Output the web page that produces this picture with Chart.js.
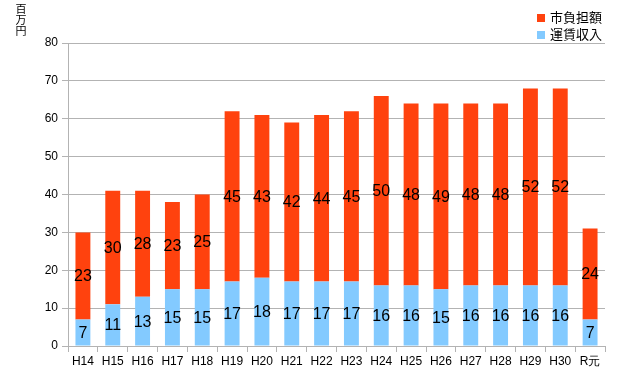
<!DOCTYPE html>
<html>
<head>
<meta charset="utf-8">
<script src="https://cdn.jsdelivr.net/npm/chart.js@4"></script>
<style>
  body { margin: 0; background: #fff; }
  #wrap { position: relative; width: 620px; height: 390px; }
  #ytitle { position: absolute; left: 14px; top: 3px; width: 14px; font: 11px "Noto Sans CJK JP", sans-serif; line-height: 11px; color: #000; text-align: center; }
  #legend { position: absolute; left: 537px; top: 8px; font: 13px "Noto Sans CJK JP", sans-serif; line-height: 17px; color: #000; }
  #legend span.box { display: inline-block; width: 8px; height: 8px; margin-right: 5px; vertical-align: 0px; }
</style>
</head>
<body>
<div id="wrap">
  <canvas id="chart" width="620" height="390"></canvas>
  <div id="ytitle">百<br>万<br>円</div>
  <div id="legend">
    <div><span class="box" style="background:#ff420e"></span>市負担額</div>
    <div><span class="box" style="background:#83caff"></span>運賃収入</div>
  </div>
</div>
<script>
var labels = ['H14', 'H15', 'H16', 'H17', 'H18', 'H19', 'H20', 'H21', 'H22', 'H23', 'H24', 'H25', 'H26', 'H27', 'H28', 'H29', 'H30', 'R元'];
var fareIncome = [7, 11, 13, 15, 15, 17, 18, 17, 17, 17, 16, 16, 15, 16, 16, 16, 16, 7];
var cityBurden = [23, 30, 28, 23, 25, 45, 43, 42, 44, 45, 50, 48, 49, 48, 48, 52, 52, 24];

// draw the value in the middle of each bar segment
var valueLabels = {
    id: 'valueLabels',
    afterDatasetsDraw: function (chart) {
        var ctx = chart.ctx;
        ctx.save();
        ctx.font = '16px "Liberation Sans", Arial, sans-serif';
        ctx.fillStyle = '#000';
        ctx.textAlign = 'center';
        ctx.textBaseline = 'middle';
        chart.data.datasets.forEach(function (ds, i) {
            chart.getDatasetMeta(i).data.forEach(function (bar, j) {
                var mid = (bar.y + bar.base) / 2;
                ctx.fillText(ds.data[j], bar.x, mid + 1);
            });
        });
        ctx.restore();
    }
};

var ctx = document.getElementById('chart').getContext('2d');
var myChart = new Chart(ctx, {
    type: 'bar',
    data: {
        labels: labels,
        datasets: [{
            label: '運賃収入',
            data: fareIncome,
            backgroundColor: '#83caff',
            barPercentage: 0.5,
            categoryPercentage: 1
        }, {
            label: '市負担額',
            data: cityBurden,
            backgroundColor: '#ff420e',
            barPercentage: 0.5,
            categoryPercentage: 1
        }]
    },
    options: {
        responsive: false,
        animation: false,
        layout: { padding: { left: 0, right: 15, top: 43, bottom: 14 } },
        plugins: {
            legend: { display: false },
            tooltip: { enabled: false }
        },
        scales: {
            x: {
                stacked: true,
                grid: { offset: true, drawOnChartArea: false, color: '#b3b3b3', tickLength: 6 },
                border: { color: '#b3b3b3' },
                ticks: { color: '#000', font: { size: 12, family: '"Liberation Sans", Arial, sans-serif' }, maxRotation: 0, autoSkip: false, padding: 2 },
                afterFit: function (scale) { scale.height = 30; }
            },
            y: {
                stacked: true,
                min: 0,
                max: 80,
                grid: { color: '#b3b3b3', tickLength: 6 },
                border: { color: '#b3b3b3' },
                ticks: { stepSize: 10, color: '#000', font: { size: 12, family: '"Liberation Sans", Arial, sans-serif' }, padding: 4 },
                afterFit: function (scale) { scale.width = 68; }
            }
        }
    },
    plugins: [valueLabels]
});
</script>
</body>
</html>
